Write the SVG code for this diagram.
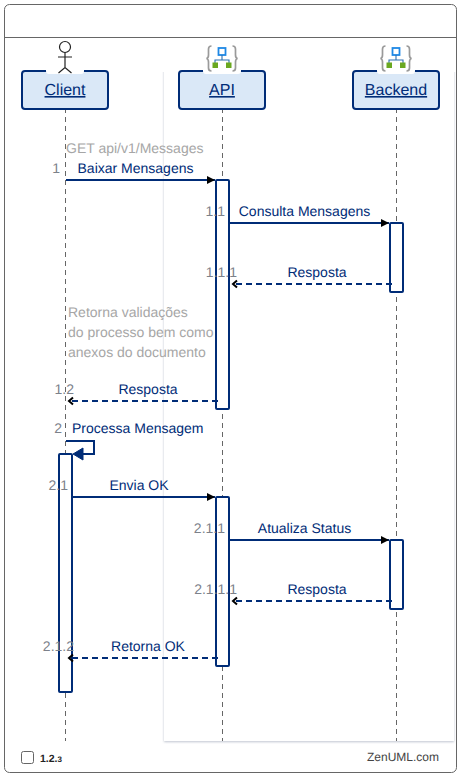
<svg xmlns="http://www.w3.org/2000/svg" width="461" height="778" viewBox="0 0 461 778">
<defs>
<filter id="sh" x="-5%" y="-5%" width="110%" height="110%"><feDropShadow dx="0" dy="1" stdDeviation="1.3" flood-color="#8a94a8" flood-opacity="0.55"/></filter>
<clipPath id="backclip"><rect x="150" y="72" width="311" height="680"/></clipPath>
<marker id="solid" markerUnits="userSpaceOnUse" markerWidth="9" markerHeight="10" refX="8" refY="5" orient="auto"><path d="M0 1 L8 5 L0 9 Z" fill="#000"/></marker>
<marker id="open" markerUnits="userSpaceOnUse" markerWidth="9" markerHeight="10" refX="7" refY="5" orient="auto"><path d="M3 1.500 L7 5 L3 8.500" fill="none" stroke="#000" stroke-width="2"/></marker>
<g id="seq-icon">
<path d="M5.500 1 Q2.500 1 2.500 4 V10 Q2.500 13 0.500 13.500 Q2.500 14 2.500 17 V23 Q2.500 26 5.500 26 M26.500 1 Q29.500 1 29.500 4 V10 Q29.500 13 31.500 13.500 Q29.500 14 29.500 17 V23 Q29.500 26 26.500 26" fill="none" stroke="#9a9a9a" stroke-width="1.700"/>
<rect x="12.500" y="3" width="7" height="7" fill="#fff" stroke="#1e88e5" stroke-width="1.800"/>
<path d="M16 10 V15 M9 18 V15 H23 V18" fill="none" stroke="#2c6fb0" stroke-width="1.100"/>
<rect x="6.500" y="17.500" width="5.500" height="5.500" fill="#6aa820"/><rect x="20" y="17.500" width="5.500" height="5.500" fill="#6aa820"/>
</g>
</defs>
<style>
text{font-family:"Liberation Sans",Arial,sans-serif;text-rendering:geometricPrecision}
.frame{fill:#fff;stroke:#666;stroke-width:1}
.life{stroke:#666;stroke-width:1;stroke-dasharray:5 4;fill:none}
.head{fill:#dae8f7;stroke:#002c77;stroke-width:2}
.gap{fill:#fff}
.name{font-size:16px;fill:#002c77;text-anchor:middle;text-decoration:underline}
.lab{font-size:14px;fill:#002c77;text-anchor:middle}
.lab2{font-size:14px;fill:#002c77}
.num{font-size:14px;fill:#7c818a;text-anchor:end}
.cmt{font-size:14px;fill:#a6a6a6}
.act{fill:#fff;stroke:#002c77;stroke-width:2}
.msg{fill:none;stroke:#002c77;stroke-width:2}
.ret{fill:none;stroke:#002c77;stroke-width:2;stroke-dasharray:6 4}
</style>
<rect id="frame" class="frame" x="4.500" y="4.500" width="452" height="768" rx="5"/>
<path id="frame-title-line" d="M5 37.500 H456" stroke="#666" stroke-width="1" fill="none"/>
<g clip-path="url(#backclip)"><rect id="backdrop" x="164" y="60" width="290" height="681" fill="#fff" filter="url(#sh)"/></g>

<g id="lifelines">
<path class="life" d="M65.500 108 V741"/>
<path class="life" d="M222.500 108 V741"/>
<path class="life" d="M396.500 108 V741"/>
</g>

<g id="node-client">
<rect class="head" x="22" y="71" width="86" height="38" rx="3"/>
<rect class="gap" x="46" y="66" width="38" height="8" rx="3"/>
<circle cx="65" cy="47" r="5.500" fill="#fff" stroke="#222" stroke-width="1.200"/>
<path d="M65 52.500 V67 M58 57 H72 M58.500 73 L65 67.500 L71.500 73" fill="none" stroke="#222" stroke-width="1.200"/>
<text class="name" x="65" y="95">Client</text>
</g>
<g id="node-api">
<rect class="head" x="179" y="71" width="86" height="38" rx="3"/>
<rect class="gap" x="203" y="66" width="38" height="8" rx="3"/>
<use href="#seq-icon" x="206" y="45"/>
<text class="name" x="222" y="95">API</text>
</g>
<g id="node-backend">
<rect class="head" x="353" y="71" width="86" height="38" rx="3"/>
<rect class="gap" x="377" y="66" width="38" height="8" rx="3"/>
<use href="#seq-icon" x="380" y="45"/>
<text class="name" x="396" y="95">Backend</text>
</g>

<g id="activations">
<rect class="act" x="216" y="180" width="13" height="229" rx="1"/>
<rect class="act" x="390" y="223" width="13" height="69" rx="1"/>
<rect class="act" x="59" y="454" width="13" height="238" rx="1"/>
<rect class="act" x="216" y="497" width="13" height="169" rx="1"/>
<rect class="act" x="390" y="540" width="13" height="69" rx="1"/>
</g>

<g id="connectors">
<path class="msg" d="M66 180 H215" marker-end="url(#solid)"/>
<path class="msg" d="M229 223 H389" marker-end="url(#solid)"/>
<path class="ret" d="M392 284 H233" marker-end="url(#open)"/>
<path class="ret" d="M218 401 H69" marker-end="url(#open)"/>
<path class="msg" d="M66 441 H94 V454 H76"/>
<path d="M73 454 L83 448 V460 Z" fill="#002c77" stroke="#002c77" stroke-width="1"/>
<path class="msg" d="M72 497 H215" marker-end="url(#solid)"/>
<path class="msg" d="M229 540 H389" marker-end="url(#solid)"/>
<path class="ret" d="M392 601 H233" marker-end="url(#open)"/>
<path class="ret" d="M218 658 H69" marker-end="url(#open)"/>
</g>

<g id="labels">
<text class="cmt" x="66" y="153">GET api/v1/Messages</text>
<text class="lab" x="135.500" y="173">Baixar Mensagens</text>
<text class="num" x="60" y="173">1</text>
<text class="lab" x="304.500" y="216">Consulta Mensagens</text>
<text class="num" x="225" y="216">1.1</text>
<text class="lab" x="317" y="277">Resposta</text>
<text class="num" x="237" y="277">1.1.1</text>
<text class="cmt" x="68" y="317">Retorna validações</text>
<text class="cmt" x="68" y="337">do processo bem como</text>
<text class="cmt" x="68" y="357">anexos do documento</text>
<text class="lab" x="148" y="394">Resposta</text>
<text class="num" x="74" y="394">1.2</text>
<text class="lab2" x="72" y="433">Processa Mensagem</text>
<text class="num" x="62" y="433">2</text>
<text class="lab" x="139" y="490">Envia OK</text>
<text class="num" x="68" y="490">2.1</text>
<text class="lab" x="304.500" y="533">Atualiza Status</text>
<text class="num" x="225" y="533">2.1.1</text>
<text class="lab" x="317" y="594">Resposta</text>
<text class="num" x="237" y="594">2.1.1.1</text>
<text class="lab" x="148" y="651">Retorna OK</text>
<text class="num" x="74" y="651">2.1.2</text>
</g>

<g id="footer">
<rect x="21.500" y="751.500" width="12" height="12" rx="2" fill="#fff" stroke="#666" stroke-width="1"/>
<text x="40" y="762" font-size="10.500" font-weight="700" fill="#222">1.2.<tspan font-size="8">3</tspan></text>
<text x="439" y="761" font-size="12" fill="#444" text-anchor="end">ZenUML.com</text>
</g>
</svg>
